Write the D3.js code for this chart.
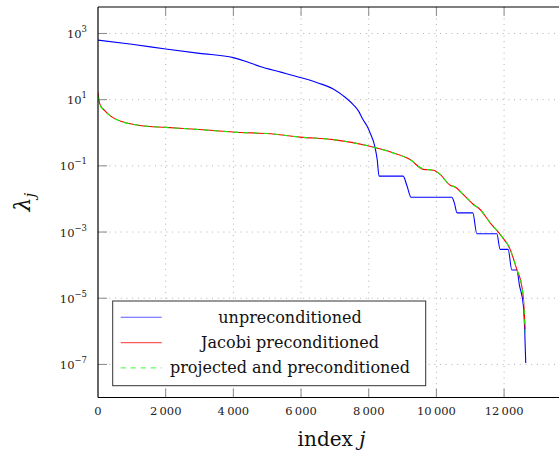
<!DOCTYPE html>
<html>
<head>
<meta charset="utf-8">
<script src="https://cdn.jsdelivr.net/npm/d3@7"></script>
<style>
  body { margin: 0; background: #fff; }
  svg { display: block; font-family: "DejaVu Serif", serif; }
</style>
</head>
<body>
<svg id="chart" width="559" height="452"></svg>
<script>
// eigenvalue spectra
var unprecJ = [0, 1000, 2000, 3000, 4000, 4400, 4790, 5400, 5970, 6500, 6950, 7250, 7540, 7700,
  7830, 7950, 8040, 8190, 8250, 8306,
  9016, 9130, 9252, 10455, 10530, 10610, 11076, 11194, 11785, 11883, 12120, 12229,
  12376, 12453, 12571, 12610, 12640];
var unprecLambda = [630, 470, 340, 250, 186, 140, 100, 68, 47, 32, 21, 13, 7.1, 4.5,
  2.5, 1.6, 1.0, 0.35, 0.155, 0.049,
  0.049, 0.025, 0.0112, 0.0112, 0.0076, 0.0038, 0.0038, 8.9e-4, 8.9e-4, 3.0e-4, 3.0e-4, 7.1e-5,
  7.1e-5, 2.5e-5, 5.8e-6, 1.0e-6, 1.1e-7];

var jacobiJ = [0, 20, 59, 207, 355, 748, 1242, 2010, 3000, 4198, 5000, 5971, 6956, 7943, 8730,
  9223, 9616, 9912, 10110, 10405, 10553, 10799, 11095, 11292, 11588, 11883, 12179,
  12376, 12524, 12572, 12602, 12622];
var jacobiLambda = [16.6, 11, 7.2, 4.6, 3.3, 2.1, 1.66, 1.45, 1.25, 1.02, 0.95, 0.74, 0.62, 0.41, 0.245,
  0.155, 0.078, 0.074, 0.055, 0.026, 0.023, 0.0135, 0.0068, 0.0048, 0.0019, 8.5e-4, 3.0e-4,
  7.4e-5, 2.3e-5, 9.3e-6, 2.9e-6, 1.15e-6];

var projJ = [0, 20, 59, 207, 355, 748, 1242, 2010, 3000, 4198, 5000, 5971, 6956, 7943, 8730,
  9223, 9616, 9912, 10110, 10405, 10553, 10799, 11095, 11292, 11588, 11883, 12179,
  12376, 12524, 12572, 12602, 12630];
var projLambda = [13.2, 9.8, 6.8, 4.5, 3.3, 2.1, 1.66, 1.45, 1.25, 1.02, 0.95, 0.74, 0.62, 0.41, 0.245,
  0.155, 0.080, 0.074, 0.055, 0.026, 0.023, 0.0135, 0.0068, 0.0048, 0.0019, 8.5e-4, 3.0e-4,
  7.4e-5, 2.3e-5, 9.3e-6, 2.9e-6, 7.2e-7];

var xTicks = [0, 2000, 4000, 6000, 8000, 10000, 12000];
var xTickLabels = ["0", "2\u2009000", "4\u2009000", "6\u2009000", "8\u2009000", "10\u2009000", "12\u2009000"];
var yTickExps = [3, 1, -1, -3, -5, -7];

var seriesNames = ["unpreconditioned", "Jacobi preconditioned", "projected and preconditioned"];
var seriesColors = ["#0000ff", "#ff0000", "#00ff00"];

var plotLeft = 98, plotRight = 565, plotTop = 7, plotBottom = 397.5;

var svg = d3.select("#chart");

var x = d3.scaleLinear().domain([0, 13800]).range([plotLeft, plotRight]);
var y = d3.scaleLog().domain([1e-8, Math.pow(10, 3.8)]).range([plotBottom, plotTop]);

svg.append("defs").append("clipPath").attr("id", "plotclip")
  .append("rect")
  .attr("x", plotLeft).attr("y", plotTop)
  .attr("width", plotRight - plotLeft).attr("height", plotBottom - plotTop);

// grid
var grid = svg.append("g").attr("class", "grid")
  .attr("stroke", "#b0b0b0")
  .attr("stroke-width", 1)
  .attr("stroke-dasharray", "1,4.7");

grid.selectAll("line.vgrid")
  .data(xTicks.slice(1))
  .join("line")
  .classed("vgrid", true)
  .attr("x1", d => x(d)).attr("x2", d => x(d))
  .attr("y1", plotTop).attr("y2", plotBottom);

grid.selectAll("line.hgrid")
  .data(yTickExps)
  .join("line")
  .classed("hgrid", true)
  .attr("x1", plotLeft).attr("x2", plotRight)
  .attr("y1", d => y(Math.pow(10, d))).attr("y2", d => y(Math.pow(10, d)));

// ticks (inside, on bottom, top and left)
var ticks = svg.append("g").attr("stroke", "#888").attr("stroke-width", 1);
ticks.selectAll("line.xb")
  .data(xTicks.slice(1))
  .join("line")
  .classed("xb", true)
  .attr("x1", d => x(d)).attr("x2", d => x(d))
  .attr("y1", plotBottom).attr("y2", plotBottom - 9);
ticks.selectAll("line.xt")
  .data(xTicks.slice(1))
  .join("line")
  .classed("xt", true)
  .attr("x1", d => x(d)).attr("x2", d => x(d))
  .attr("y1", plotTop).attr("y2", plotTop + 9);
ticks.selectAll("line.yl")
  .data(yTickExps)
  .join("line")
  .classed("yl", true)
  .attr("x1", plotLeft).attr("x2", plotLeft + 9)
  .attr("y1", d => y(Math.pow(10, d))).attr("y2", d => y(Math.pow(10, d)));

// curves
var line = d3.line()
  .curve(d3.curveMonotoneX)
  .x(d => x(d[0]))
  .y(d => y(d[1]));

var plot = svg.append("g").attr("clip-path", "url(#plotclip)").attr("fill", "none");

plot.append("path")
  .datum(d3.zip(unprecJ, unprecLambda))
  .attr("d", line)
  .attr("stroke", seriesColors[0])
  .attr("stroke-width", 1.1);

plot.append("path")
  .datum(d3.zip(jacobiJ, jacobiLambda))
  .attr("d", line)
  .attr("stroke", seriesColors[1])
  .attr("stroke-width", 1.1);

plot.append("path")
  .datum(d3.zip(projJ, projLambda))
  .attr("d", line)
  .attr("stroke", seriesColors[2])
  .attr("stroke-width", 1.1)
  .attr("stroke-dasharray", "5,5");

// axis frame
var frame = svg.append("g").attr("stroke", "#000").attr("stroke-width", 1.2).attr("fill", "none");
frame.append("line").attr("x1", plotLeft).attr("x2", plotLeft).attr("y1", plotTop).attr("y2", plotBottom);
frame.append("line").attr("x1", plotLeft).attr("x2", plotRight).attr("y1", plotBottom).attr("y2", plotBottom);
frame.append("line").attr("x1", plotLeft).attr("x2", plotRight).attr("y1", plotTop).attr("y2", plotTop);

// tick labels
svg.selectAll("text.xlab")
  .data(xTicks)
  .join("text")
  .classed("xlab", true)
  .attr("x", d => x(d))
  .attr("y", plotBottom + 17)
  .attr("text-anchor", "middle")
  .attr("font-size", 11.5)
  .attr("fill", "#222")
  .text((d, i) => xTickLabels[i]);

var ylab = svg.selectAll("text.ylab")
  .data(yTickExps)
  .join("text")
  .classed("ylab", true)
  .attr("x", plotLeft - 11)
  .attr("y", d => y(Math.pow(10, d)) + 4.5)
  .attr("text-anchor", "end")
  .attr("fill", "#222");
ylab.append("tspan").attr("font-size", 11.5).text("10");
ylab.append("tspan").attr("font-size", 8.5).attr("dy", -6)
  .text(d => String(d).replace("-", "\u2212"));

// axis titles
svg.append("text")
  .attr("x", (plotLeft + plotRight) / 2)
  .attr("y", 446)
  .attr("text-anchor", "middle")
  .attr("font-size", 20)
  .attr("fill", "#111")
  .html('index <tspan font-style="italic">j</tspan>');

svg.append("text")
  .attr("transform", "translate(30," + ((plotTop + plotBottom) / 2) + ") rotate(-90)")
  .attr("text-anchor", "middle")
  .attr("font-size", 22)
  .attr("fill", "#111")
  .html('<tspan font-style="italic">λ</tspan><tspan font-size="15" font-style="italic" dy="5">j</tspan>');

// legend
var legend = svg.append("g");
legend.append("rect")
  .attr("x", 112.7).attr("y", 301)
  .attr("width", 313).attr("height", 84.7)
  .attr("fill", "#fff")
  .attr("stroke", "#333")
  .attr("stroke-width", 1);

var rows = legend.selectAll("g.row")
  .data(seriesNames)
  .join("g")
  .classed("row", true)
  .attr("transform", (d, i) => "translate(0," + (317.3 + i * 25.3) + ")");

rows.append("line")
  .attr("x1", 120.7).attr("x2", 161.7)
  .attr("y1", 0).attr("y2", 0)
  .attr("stroke", (d, i) => seriesColors[i])
  .attr("stroke-opacity", 0.65)
  .attr("stroke-width", 1.1)
  .attr("stroke-dasharray", (d, i) => i == 2 ? "5,5" : null);

rows.append("text")
  .attr("x", 290)
  .attr("y", 5.5)
  .attr("text-anchor", "middle")
  .attr("font-size", 16)
  .attr("fill", "#111")
  .text(d => d);
</script>
</body>
</html>
